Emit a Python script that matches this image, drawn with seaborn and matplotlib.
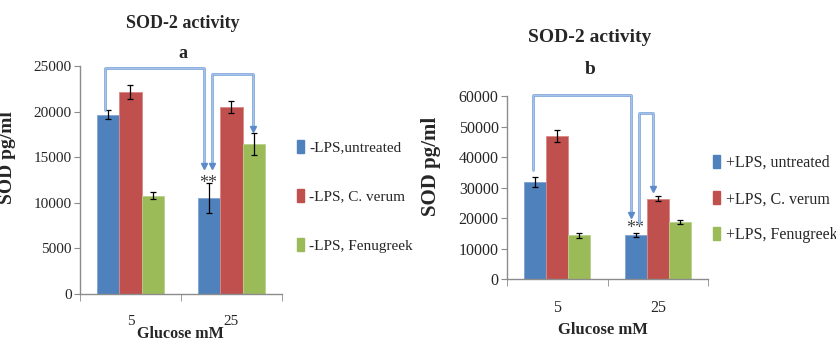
import pandas as pd
import matplotlib.pyplot as plt
import matplotlib.patheffects as pe
from matplotlib.patches import Patch
import seaborn as sns

# Veriler
glucose = ['5', '25']

groups_a = ['-LPS,untreated', '-LPS, C. verum', '-LPS, Fenugreek']
untreated_a = [19660, 10530]
verum_a = [22180, 20470]
fenugreek_a = [10780, 16410]
err_untreated_a = [500, 1600]
err_verum_a = [750, 640]
err_fenugreek_a = [350, 1190]

groups_b = ['+LPS, untreated', '+LPS, C. verum', '+LPS, Fenugreek']
untreated_b = [31750, 14400]
verum_b = [46900, 26380]
fenugreek_b = [14400, 18650]
err_untreated_b = [1580, 700]
err_verum_b = [2000, 870]
err_fenugreek_b = [800, 700]

colors = ['#4F81BD', '#C0504D', '#9BBB59']
edge_colors = ['#7FA3D0', '#D88A88', '#B9D08C']
line_blue = '#A8C4EA'
axis_gray = '#8C8C8C'

sns.set_style('white')
plt.rcParams['font.family'] = ['Liberation Serif', 'DejaVu Serif']


def make_df(groups, series):
    rows = []
    for g, vals in zip(groups, series):
        for gl, v in zip(glucose, vals):
            rows.append({'Glucose': gl, 'SOD': v, 'grp': g})
    return pd.DataFrame(rows)


def draw_panel(ax, groups, series, errs, ymax, ystep, fs):
    df = make_df(groups, series)
    sns.barplot(data=df, x='Glucose', y='SOD', hue='grp', order=glucose,
                hue_order=groups, palette=colors, width=0.66, saturation=1,
                errorbar=None, legend=False, ax=ax)
    centers = []
    for cont, err, ec in zip(ax.containers, errs, edge_colors):
        xs = []
        for bar, e in zip(cont, err):
            bar.set_edgecolor(ec)
            bar.set_linewidth(0.6)
            cx = bar.get_x() + bar.get_width() / 2
            xs.append(cx)
            ax.errorbar(cx, bar.get_height(), yerr=e, color='black',
                        lw=0.9, capsize=2, capthick=0.9)
        centers.append(xs)
    ax.set_xlim(-0.5, 1.5)
    ax.set_ylim(0, ymax)
    ax.set_yticks(range(0, ymax + 1, ystep))
    ax.set_xticks([-0.5, 0.5, 1.5], minor=True)
    ax.tick_params(axis='x', which='major', length=0, pad=15, labelsize=fs)
    ax.tick_params(axis='x', which='minor', length=5, color=axis_gray,
                   direction='out')
    ax.tick_params(axis='y', length=4, color=axis_gray, direction='out',
                   labelsize=fs, pad=2)
    ax.tick_params(bottom=True, left=True, which='both')
    sns.despine(ax=ax)
    for s in ['left', 'bottom']:
        ax.spines[s].set_color(axis_gray)
        ax.spines[s].set_linewidth(1.0)
    return centers


def bracket(ax, x0, y0, ytop, x1, y1, arrow_start=False):
    lw = dict(color=line_blue, lw=0.7, clip_on=False, zorder=5,
              path_effects=[pe.Stroke(linewidth=1.8, foreground='#6E9BD6'),
                            pe.Normal()])
    ax.plot([x0, x0, x1, x1], [y0, ytop, ytop, y1], **lw)
    ax.plot([x1], [y1], marker='v', ms=4.5, color='#5B8BCB',
            clip_on=False, zorder=6)
    if arrow_start:
        ax.plot([x0], [y0], marker='v', ms=4.5, color='#5B8BCB',
                clip_on=False, zorder=6)


fig = plt.figure(figsize=(8.36, 3.43), dpi=100)
ax1 = fig.add_axes([0.0957, 0.1429, 0.2416, 0.6647])
ax2 = fig.add_axes([0.6065, 0.1857, 0.2404, 0.5344])

c1 = draw_panel(ax1, groups_a, [untreated_a, verum_a, fenugreek_a],
                [err_untreated_a, err_verum_a, err_fenugreek_a], 25000, 5000, 11)
c2 = draw_panel(ax2, groups_b, [untreated_b, verum_b, fenugreek_b],
                [err_untreated_b, err_verum_b, err_fenugreek_b], 60000, 10000, 11.5)

# Anlamlılık okları
bracket(ax1, c1[0][0] - 0.03, 20175, 24780, c1[0][1] - 0.05, 14000)
bracket(ax1, c1[0][1] + 0.03, 14000, 24120, c1[2][1] - 0.01, 18100, arrow_start=True)
ax1.text(c1[0][1] - 0.01, 12100, '**', ha='center', va='center', fontsize=13, color='#404040')

bracket(ax2, c2[0][0] - 0.02, 35780, 60330, c2[0][1] - 0.05, 21000)
bracket(ax2, c2[0][1] + 0.03, 18430, 54440, c2[1][1] - 0.05, 29500)
ax2.text(c2[0][1] - 0.01, 16700, '**', ha='center', va='center', fontsize=13, color='#404040')

# Eksen başlıkları
ax1.set_ylabel('SOD pg/ml', fontsize=14, fontweight='bold')
ax1.yaxis.set_label_coords(-0.317, 0.599)
ax1.set_xlabel('Glucose mM', fontsize=11.5, fontweight='bold', va='center')
ax1.xaxis.set_label_coords(0.495, -0.175)

ax2.set_ylabel('SOD pg/ml', fontsize=15, fontweight='bold')
ax2.yaxis.set_label_coords(-0.328, 0.614)
ax2.set_xlabel('Glucose mM', fontsize=12, fontweight='bold', va='center')
ax2.xaxis.set_label_coords(0.478, -0.277)

fig.text(183 / 836, 1 - 24 / 343, 'SOD-2 activity', ha='center', va='center',
         fontsize=13, fontweight='bold')
fig.text(183 / 836, 1 - 54 / 343, 'a', ha='center', va='center',
         fontsize=13, fontweight='bold')
fig.text(590 / 836, 1 - 38 / 343, 'SOD-2 activity', ha='center', va='center',
         fontsize=14, fontweight='bold')
fig.text(590 / 836, 1 - 69 / 343, 'b', ha='center', va='center',
         fontsize=14, fontweight='bold')

# Lejantlar
h1 = [Patch(facecolor=c, edgecolor=c) for c in colors]
fig.legend(h1, groups_a, loc='upper left', bbox_to_anchor=(297 / 836, 1 - 140 / 343),
           frameon=False, borderpad=0, borderaxespad=0, handlelength=0.45,
           handleheight=0.9, handletextpad=0.35, labelspacing=2.25, fontsize=11)
fig.legend(h1, groups_b, loc='upper left', bbox_to_anchor=(713 / 836, 1 - 155 / 343),
           frameon=False, borderpad=0, borderaxespad=0, handlelength=0.45,
           handleheight=0.9, handletextpad=0.35, labelspacing=1.25, fontsize=11.5)

fig.savefig('out.png', dpi=100)
